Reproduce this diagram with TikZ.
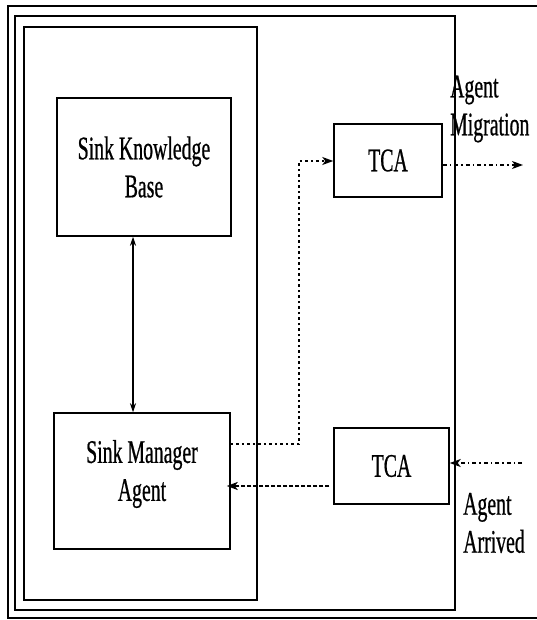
\documentclass[tikz,border=0pt]{standalone}
\usepackage{fontspec}
\newfontfamily\cf{Liberation Serif}[FakeStretch=0.6,FakeBold=0.6]
\usetikzlibrary{arrows.meta,calc}
\tikzset{
  frame/.style={draw, line width=1.5pt},
  box/.style={draw, line width=1.5pt, inner sep=0pt, align=center,
              font=\cf\fontsize{33}{38}\selectfont},
  txt/.style={inner sep=0pt, font=\cf\fontsize{33}{38}\selectfont},
  tip/.style={-{Stealth[length=11pt,width=8pt,inset=3pt]}},
  dbltip/.style={{Stealth[length=9pt,width=6pt]}-{Stealth[length=9pt,width=6pt]}},
  dotpath/.style={line width=1.4pt, dash pattern=on 2.5pt off 3pt},
  dashdot/.style={line width=1.4pt, dash pattern=on 4pt off 3pt on 1.5pt off 3pt},
  densedash/.style={line width=2pt, dash pattern=on 4pt off 2pt},
}
\begin{document}
\begin{tikzpicture}[x=1pt,y=-1pt]
\useasboundingbox (0,0) rectangle (537,620);
% frames
\draw[frame] (537,6) -- (8,6) -- (8,618) -- (537,618);
\draw[frame] (15,16) rectangle (455,610);
\draw[frame] (24,27) rectangle (257,600);
% boxes
\node[box, minimum width=174pt, minimum height=138pt] (kb) at (144,167) {Sink Knowledge\\Base};
\node[box, minimum width=176pt, minimum height=136pt] (mgr) at (142,481) {};
\node[txt, align=center] (mgrtxt) at (142,474) {Sink Manager\\Agent};
\node[box, minimum width=108pt, minimum height=73pt] (tca1) at (388,160.5) {TCA};
\node[box, minimum width=115pt, minimum height=76pt] (tca2) at (391.5,466) {TCA};
% labels
\node[txt, align=left, anchor=west] (lblmig) at (450,109) {Agent\\Migration};
\node[txt, align=left, anchor=west] (lblarr) at (463,523) {Agent\\Arrived};
% coordinates
\coordinate (arrx) at (133,0);
\coordinate (bend) at (299,161);
\coordinate (out1) at (523,165);
\coordinate (in2) at (522,463);
% connectors
\draw[dbltip, line width=1.2pt] (kb.south -| arrx) -- (mgr.north -| arrx);
\draw[dotpath, tip] ([yshift=37pt]mgr.east) -| (bend) -- (bend -| tca1.west);
\draw[dashdot, tip] (tca1.east |- out1) -- (out1);
\draw[dashdot, tip] (in2) -- (in2 -| tca2.east);
\draw[densedash, tip] ([yshift=-20pt,xshift=-4pt]tca2.west) -- ([yshift=-20pt,xshift=-4pt]tca2.west -| mgr.east);
\end{tikzpicture}
\end{document}
